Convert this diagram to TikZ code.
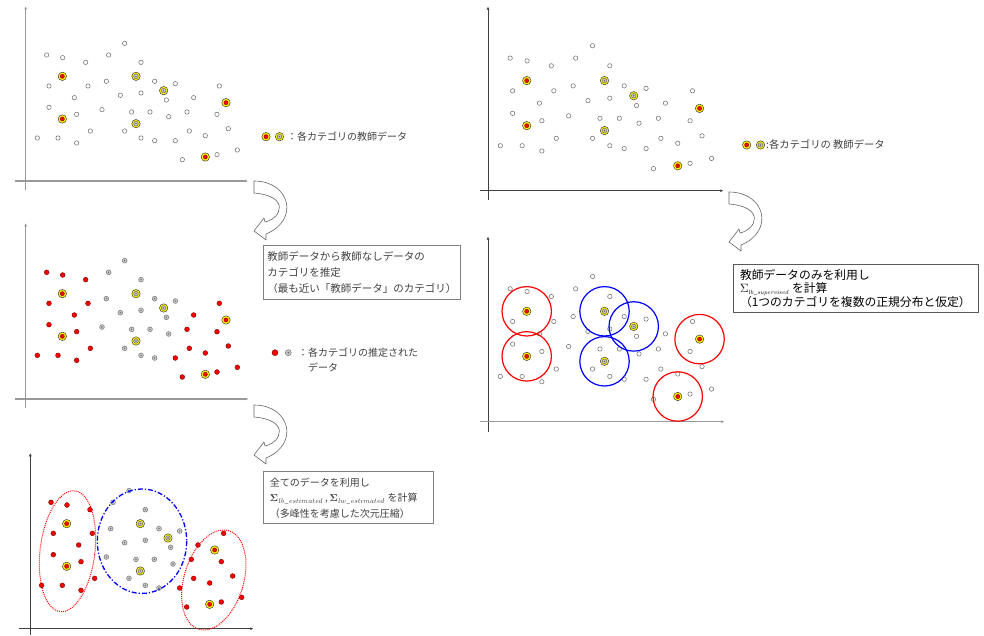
\documentclass[tikz,border=0pt]{standalone}
\usepackage[no-math]{fontspec}
\usepackage{amsmath}
\newfontfamily\jp{Noto Sans CJK JP}
\usetikzlibrary{arrows.meta}
\def\PL{140/165,188/173,257/187,147/258,264/258,223/293,147/322,230/343,112/414,174/414,230/429,271/393}
\def\PM{326/165,374/130,423/187,319/244,464/244,526/251,361/286,423/279,499/300,306/329,395/336,450/336,506/350,374/393,423/414,464/422}
\def\PR{658/258,581/293,561/336,651/343,526/422,568/393,616/407,685/386,547/479,651/464,712/450}
\def\PLR{187/229,187/357,678/308,616/471}
\def\PLRb{187/229,187/357,631/308,616/471}
\def\PLG{408/229,491/272,408/371}
\tikzset{
  hol/.style={circle,draw=black!55,line width=0.55pt,fill=white,inner sep=0pt,minimum size=4.4pt},
  redpt/.style={circle,draw=red!45!black,line width=0.4pt,fill=red,inner sep=0pt,minimum size=4.8pt},
  estpt/.style={circle,draw=black!55,line width=0.5pt,fill=black!20,inner sep=0pt,minimum size=4.8pt},
  dotc/.style={circle,fill=black!60,inner sep=0pt,minimum size=1.6pt},
  ring/.style={circle,draw=black!75,line width=0.5pt,fill=yellow,inner sep=0pt,minimum size=8.4pt},
  rcore/.style={circle,draw=red!40!black,line width=0.3pt,fill=red,inner sep=0pt,minimum size=4.2pt},
  gcore/.style={circle,draw=black!60,line width=0.45pt,fill=black!22,inner sep=0pt,minimum size=4.6pt},
  axg/.style={draw=black!40,line width=1.5pt,-{Latex[length=3pt,width=3pt]}},
  axd/.style={draw=black!75,line width=0.8pt,-{Latex[length=3pt,width=3pt]}},
  carrow/.style={draw=black!60,fill=white,line width=0.6pt,line join=round},
  lbox/.style={draw=black!50,line width=0.8pt,inner sep=0pt},
  rbox/.style={draw=black!65,line width=0.9pt,inner sep=0pt},
  ltext/.style={inner sep=0pt,text=black!75,align=left,font=\jp\fontsize{10}{15.3}\selectfont},
  rcirc/.style={circle,draw=red,line width=1.2pt,inner sep=0pt,minimum size=49.4pt},
  bcirc/.style={circle,draw=blue,line width=1.2pt,inner sep=0pt,minimum size=49.4pt},
  redell/.style={draw=red,line width=1pt,dash pattern=on 1pt off 1pt},
  blueell/.style={draw=blue,line width=1.3pt,dash pattern=on 5pt off 2pt on 1.2pt off 2pt},
}
\newcommand\mkhol[2]{\node[hol] (#1) at (#2) {};}
\newcommand\mkred[2]{\node[redpt] (#1) at (#2) {};}
\newcommand\mkest[2]{\node[estpt] (#1) at (#2) {}; \node[dotc] (#1d) at (#1) {};}
\newcommand\ringR[2]{\node[ring] (#1) at (#2) {}; \node[rcore] (#1c) at (#1) {};}
\newcommand\ringG[2]{\node[ring] (#1) at (#2) {}; \node[gcore] (#1c) at (#1) {}; \node[dotc] (#1d) at (#1) {};}
\newcommand\panelpts[5]{%
  \foreach \x/\y [count=\i] in \PL {#2{#1l\i}{\x,\y}}
  \foreach \x/\y [count=\i] in \PM {#3{#1m\i}{\x,\y}}
  \foreach \x/\y [count=\i] in \PR {#4{#1r\i}{\x,\y}}
  \foreach \x/\y [count=\i] in #5 {\ringR{#1a\i}{\x,\y}}
  \foreach \x/\y [count=\i] in \PLG {\ringG{#1b\i}{\x,\y}}
}
\newcommand\curvarrow[1]{%
  \draw[carrow,shift={(#1)}] (254,181) .. controls (290,181) and (300,220) .. (266,234)
    -- (266,240) -- (254,231) -- (264,218) -- (265,222)
    .. controls (282,218) and (290,196) .. (254,193) -- cycle;}
\begin{document}
\begin{tikzpicture}[x=1pt,y=-1pt]
\fill[white] (0,0) rectangle (984,636);
\useasboundingbox (0,0) rectangle (984,636);

% ---------- axes ----------
\draw[axg] (25.7,190) -- (25.7,6.5);
\draw[axg] (15,181) -- (248,181);
\draw[axg] (25.7,408.3) -- (25.7,223.3);
\draw[axg] (15,399) -- (248.3,399);
\draw[axd] (30.3,635) -- (30.3,453.3);
\draw[axd] (19,628.7) -- (253.3,628.7);
\draw[axd] (488,200) -- (488,6.7);
\draw[axd] (480,190.7) -- (723.3,190.7);
\draw[axd] (488,431.7) -- (488,236.7);
\draw[axg,line width=1.2pt] (480,421.7) -- (724.3,421.7);

% ---------- panels ----------
\begin{scope}[scale=0.33333]
  \panelpts{A}{\mkhol}{\mkhol}{\mkhol}{\PLR}
\end{scope}
\begin{scope}[shift={(0,217.33)},scale=0.33333]
  \panelpts{B}{\mkred}{\mkest}{\mkred}{\PLR}
\end{scope}
\begin{scope}[shift={(4.33,447.33)},scale=0.33333]
  \panelpts{C}{\mkred}{\mkest}{\mkred}{\PLRb}
\end{scope}
\begin{scope}[shift={(460.9,0)},scale=0.352]
  \panelpts{D}{\mkhol}{\mkhol}{\mkhol}{\PLR}
\end{scope}
\begin{scope}[shift={(460.9,230.7)},scale=0.352]
  \panelpts{E}{\mkhol}{\mkhol}{\mkhol}{\PLR}
\end{scope}

% circles (bottom right)
\foreach \n in {Ea1,Ea2,Ea3,Ea4} {\node[rcirc] (\n-o) at (\n) {};}
\foreach \n in {Eb1,Eb2,Eb3} {\node[bcirc] (\n-o) at (\n) {};}

% ellipses (bottom left)
\draw[redell,rotate around={-7:(67.5,551.2)}] (67.5,551.2) ellipse [x radius=27.4,y radius=60.8];
\draw[blueell] (142,541.2) ellipse [x radius=44.7,y radius=52.2];
\draw[redell,rotate around={-17:(213.8,580)}] (213.8,580) ellipse [x radius=29.7,y radius=51.5];

% ---------- curved arrows ----------
\curvarrow{0,0}
\curvarrow{0,224}
\curvarrow{475,11}

% ---------- legends ----------
\ringR{lg1a}{266,136.7}
\ringG{lg1b}{279.5,136.7}
\node[ltext,anchor=west] (lg1t) at (287,136.7) {：各カテゴリの教師データ};

\ringR{lg2a}{746.7,145}
\ringG{lg2b}{760.5,145}
\node[ltext,anchor=west,font=\jp\fontsize{10.3}{12}\selectfont] (lg2t) at (766,145) {:各カテゴリの 教師データ};

\node[redpt,minimum size=6pt] (lg3a) at (275,352.7) {};
\node[estpt,minimum size=6pt] (lg3b) at (288.3,352.7) {};
\node[dotc,minimum size=2pt] (lg3bd) at (lg3b) {};
\node[ltext,anchor=west] (lg3t) at (298,352.7) {：各カテゴリの推定された};
\node[ltext,anchor=west] (lg3u) at (308,367.3) {データ};

% ---------- text boxes ----------
\node[lbox,anchor=north west,minimum width=197.3pt,minimum height=54pt] (b1) at (262.7,245) {};
\node[ltext,anchor=west,font=\jp\fontsize{10.5}{16}\selectfont] (b1t) at ([xshift=4.5pt]b1.west)
  {教師データから教師なしデータの\\カテゴリを推定\\（最も近い「教師データ」のカテゴリ）};

\node[lbox,anchor=north west,minimum width=170.6pt,minimum height=52.6pt] (b2) at (262.7,470.7) {};
\node[ltext,anchor=west] (b2t) at ([xshift=7pt,yshift=-0.8pt]b2.west)
  {全てのデータを利用し\\$\mathbf{\Sigma}_{\mathit{lb\_estimated}}$\,,\,$\mathbf{\Sigma}_{\mathit{lw\_estimated}}$ を計算\\（多峰性を考慮した次元圧縮）};

\node[rbox,anchor=north west,minimum width=244.4pt,minimum height=47.7pt] (b3) at (733.3,264) {};
\node[ltext,anchor=west,text=black,font=\jp\fontsize{11.8}{13.3}\selectfont] (b3t) at ([xshift=6.5pt]b3.west)
  {教師データのみを利用し\\$\Sigma_{\scriptscriptstyle \mathit{lb\_supervised}}$ を計算\\（1つのカテゴリを複数の正規分布と仮定）};
\end{tikzpicture}
\end{document}
